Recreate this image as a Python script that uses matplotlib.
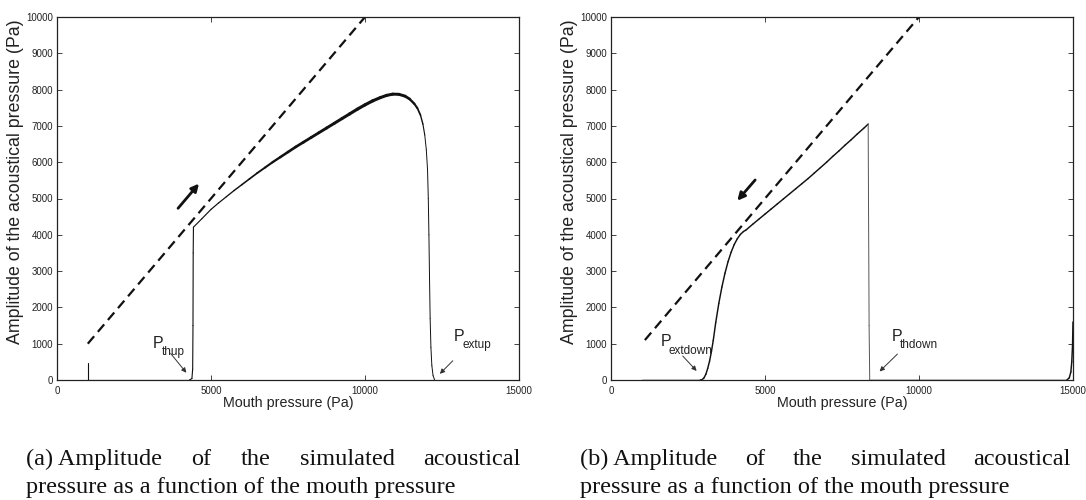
import numpy as np
import matplotlib
matplotlib.use("Agg")
import matplotlib.pyplot as plt
from matplotlib.collections import LineCollection

# ---- data -------------------------------------------------------------
# (a) increasing mouth pressure
up_p = [1000, 1000, 1000, 4300, 4380, 4405, 4415, 4422, 4430,
        4700, 5000, 5250, 5500, 5750, 6000, 6250, 6500, 6750, 7000,
        7250, 7500, 7750, 8000, 8250, 8500, 8750, 9000, 9250, 9500,
        9750, 10000, 10250, 10500, 10700, 10900, 11100, 11300, 11450,
        11600, 11700, 11800, 11880, 11940, 11990, 12030, 12055, 12075,
        12095, 12115, 12140, 12170, 12210, 12260, 15000]
up_amp = [470, 0, 0, 0, 40, 300, 1500, 3500, 4210,
          4440, 4700, 4880, 5050, 5220, 5380, 5540, 5700, 5850, 6000,
          6140, 6280, 6420, 6550, 6680, 6810, 6940, 7070, 7200, 7330,
          7460, 7580, 7690, 7780, 7840, 7875, 7870, 7820, 7740,
          7610, 7490, 7300, 7050, 6750, 6350, 5800, 5000, 4000,
          2800, 1700, 900, 400, 120, 0, 0]

# (b) decreasing mouth pressure
down_p = [1000, 2900, 2960, 3020, 3080, 3140, 3200, 3260, 3320,
          3400, 3500, 3600, 3700, 3800, 3900, 4000, 4100, 4200,
          4300, 4380, 4600, 4800, 5000, 5200, 5400, 5600, 5800,
          6000, 6200, 6400, 6600, 6800, 7000, 7200, 7400, 7600,
          7800, 8000, 8200, 8350, 8360, 8380, 8400, 14800, 14880,
          14930, 14960, 14985, 15000]
down_amp = [0, 0, 10, 60, 160, 320, 520, 780, 1090,
            1580, 2110, 2560, 2940, 3260, 3520, 3730, 3890, 4010,
            4090, 4130, 4290, 4430, 4570, 4710, 4850, 4990, 5130,
            5270, 5410, 5550, 5700, 5850, 6000, 6160, 6310, 6470,
            6620, 6780, 6930, 7050, 5000, 1500, 0, 0, 60,
            220, 500, 950, 1600]

# linear reference (dashed) lines
dash_up_p = [1000, 10000]
dash_up_amp = [1000, 10000]
dash_down_p = [1100, 10000]
dash_down_amp = [1100, 10000]

x_ticks = [0, 5000, 10000, 15000]
y_ticks = list(range(0, 10001, 1000))

# ---- figure -----------------------------------------------------------
W, H = 1086, 500
fig = plt.figure(figsize=(W / 100, H / 100), dpi=100)

sans = ["Liberation Sans", "DejaVu Sans"]
serif = ["Liberation Serif", "DejaVu Serif"]
ink = "#222222"

ax_l = fig.add_axes([57 / W, 1 - 380 / H, 462 / W, 363 / H])
ax_r = fig.add_axes([611 / W, 1 - 380 / H, 462 / W, 363 / H])


def style_axes(ax):
    ax.set_xlim(0, 15000)
    ax.set_ylim(0, 10000)
    ax.set_xticks(x_ticks)
    ax.set_yticks(y_ticks)
    ax.set_xticklabels([str(t) for t in x_ticks], family=sans)
    ax.set_yticklabels([str(t) for t in y_ticks], family=sans)
    ax.tick_params(direction="in", top=True, right=True, length=3.5,
                   width=0.6, labelsize=7, colors=ink)
    ax.tick_params(axis="x", pad=4.5)
    ax.tick_params(axis="y", pad=3)
    for s in ax.spines.values():
        s.set_linewidth(0.9)
        s.set_color(ink)
    ax.set_xlabel("Mouth pressure (Pa)", family=sans, fontsize=10.3,
                  color=ink)
    ax.set_ylabel("Amplitude of the acoustical pressure (Pa)", family=sans,
                  fontsize=12.8, color=ink)
    ax.xaxis.set_label_coords(0.5, -0.043)
    ax.yaxis.set_label_coords(-0.072, 0.545)


def varying_line(ax, xs, ys, widths, colors):
    pts = np.column_stack([xs, ys])
    segs = np.stack([pts[:-1], pts[1:]], axis=1)
    lc = LineCollection(segs, linewidths=widths, colors=colors,
                        capstyle="round", joinstyle="round")
    ax.add_collection(lc)


def label_arrow(ax, main, sub, p_xy, s_xy, tail, head):
    ax.text(*p_xy, main, family=sans, fontsize=11.5, ha="left",
            va="baseline", color=ink)
    ax.text(*s_xy, sub, family=sans, fontsize=8.5, ha="left",
            va="baseline", color=ink)
    ax.annotate("", xy=head, xytext=tail,
                arrowprops=dict(arrowstyle="-|>", lw=0.7, color="#333333",
                                mutation_scale=7, shrinkA=0, shrinkB=0))


def sweep_arrow(ax, tail, head):
    ax.annotate("", xy=head, xytext=tail,
                arrowprops=dict(arrowstyle="-|>", lw=2.0, color="#111111",
                                mutation_scale=11, shrinkA=0, shrinkB=0))


# (a)
style_axes(ax_l)
up_x = np.asarray(up_p, float)
mid = 0.5 * (up_x[:-1] + up_x[1:])
w_up = np.interp(mid, [4400, 5500, 6500, 7500, 10000, 11300, 11700, 11950],
                 [0.8, 0.9, 1.3, 1.9, 2.3, 2.1, 1.4, 0.7])
varying_line(ax_l, up_p, up_amp, w_up, "#111111")
ax_l.plot(dash_up_p, dash_up_amp, color="#111111", lw=1.6,
          dashes=(4.4, 2.6))
sweep_arrow(ax_l, (3930, 4730), (4610, 5410))
label_arrow(ax_l, "P", "thup", (3106, 880), (3420, 700),
            (3690, 730), (4200, 200))
label_arrow(ax_l, "P", "extup", (12877, 1080), (13150, 890),
            (12850, 530), (12430, 170))

# (b)
style_axes(ax_r)
down_x = np.asarray(down_p, float)
mid = 0.5 * (down_x[:-1] + down_x[1:])
drop = (mid > 8340) & (mid < 8500)
w_down = np.where(drop, 0.7, 1.05)
c_down = ["#555555" if d else "#111111" for d in drop]
varying_line(ax_r, down_p, down_amp, w_down, c_down)
ax_r.plot(dash_down_p, dash_down_amp, color="#111111", lw=1.6,
          dashes=(4.4, 2.6))
sweep_arrow(ax_r, (4680, 5510), (4100, 4940))
label_arrow(ax_r, "P", "extdown", (1600, 940), (1880, 720),
            (2330, 660), (2780, 250))
label_arrow(ax_r, "P", "thdown", (9110, 1080), (9380, 890),
            (9300, 715), (8720, 235))


# ---- captions (first line justified) ----------------------------------
def caption(words_line1, line2, x0, x1):
    r = fig.canvas.get_renderer()
    kw = dict(family=serif, fontsize=17.5, va="baseline", ha="left",
              color="#111111")
    y1 = 1 - 465 / H
    y2 = 1 - 493 / H
    texts = [fig.text(0, y1, w, **kw) for w in words_line1]
    widths = [t.get_window_extent(r).width for t in texts]
    gap = (x1 - x0 - sum(widths)) / (len(texts) - 1)
    x = x0
    for t, w in zip(texts, widths):
        t.set_x(x / W)
        x += w + gap
    fig.text(x0 / W, y2, line2, **kw)


caption(["(a) Amplitude", "of", "the", "simulated", "acoustical"],
        "pressure as a function of the mouth pressure", 26, 521)
caption(["(b) Amplitude", "of", "the", "simulated", "acoustical"],
        "pressure as a function of the mouth pressure", 580, 1071)

fig.savefig("out.png", dpi=100)
